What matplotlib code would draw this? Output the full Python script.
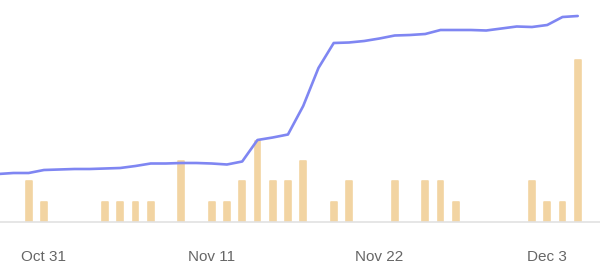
from matplotlib import pyplot as plt
import matplotlib.dates as mdates
import numpy as np
import pandas as pd

# daily line series (arbitrary index)
line_dates = pd.date_range("2023-10-28", "2023-12-05", freq="D")
line_values = [48, 49, 49, 52, 52.5, 53, 53, 53.5, 54, 56, 58.5, 58.5, 59, 59,
               58.5, 57.5, 60.5, 82, 84.5, 87.5, 116, 154, 179, 179.5, 181, 183.5,
               186.5, 187, 188, 192, 192, 192, 191.5, 193.5, 195.5, 195, 197, 205, 206]

# bar series (counts per day)
bar_dates = ["2023-10-30", "2023-10-31", "2023-11-04", "2023-11-05", "2023-11-06",
             "2023-11-07", "2023-11-09", "2023-11-11", "2023-11-12", "2023-11-13",
             "2023-11-14", "2023-11-15", "2023-11-16", "2023-11-17", "2023-11-19",
             "2023-11-20", "2023-11-23", "2023-11-25", "2023-11-26", "2023-11-27",
             "2023-12-02", "2023-12-03", "2023-12-04", "2023-12-05"]
bar_counts = [2, 1, 1, 1, 1, 1, 3, 1, 1, 2, 4, 2, 2, 3, 1, 2, 2, 2, 2, 1, 2, 1, 1, 8]

tick_dates = ["2023-10-31", "2023-11-11", "2023-11-22", "2023-12-03"]
tick_labels = ["Oct 31", "Nov 11", "Nov 22", "Dec 3"]

plt.rcParams["font.family"] = ["Liberation Sans", "DejaVu Sans"]

fig = plt.figure(figsize=(6, 2.77), dpi=100)
ax = fig.add_axes([0, 55 / 277, 1, 222 / 277])

bx = mdates.date2num(pd.to_datetime(bar_dates))
bars = ax.bar(bx, bar_counts, width=0.38, color="#f2d4a2", edgecolor="#f2d4a2",
              linewidth=1.2, zorder=1)
for b in bars:
    b.set_joinstyle("round")
ax.set_ylim(0, 222 / 20.3)

ax2 = ax.twinx()
lx = mdates.date2num(line_dates)
ax2.plot(lx, line_values, color="#7f86f2", lw=1.9, solid_joinstyle="round",
         solid_capstyle="round", zorder=3)
ax2.set_ylim(0, 222)

x0 = mdates.date2num(pd.Timestamp("2023-10-31"))
ax.set_xlim(x0 - 2.88, x0 + 36.46)

for a in (ax, ax2):
    for s in a.spines.values():
        s.set_visible(False)
    a.set_yticks([])
ax.spines["bottom"].set_visible(True)
ax.spines["bottom"].set_color("#e2e2e2")
ax.spines["bottom"].set_linewidth(1.2)
ax.spines["bottom"].set_zorder(5)

ax.set_xticks(mdates.date2num(pd.to_datetime(tick_dates)))
ax.set_xticklabels(tick_labels)
ax.tick_params(axis="x", length=0, pad=20, labelsize=11, labelcolor="#666666")

fig.savefig("out.png", dpi=100, facecolor="white")
